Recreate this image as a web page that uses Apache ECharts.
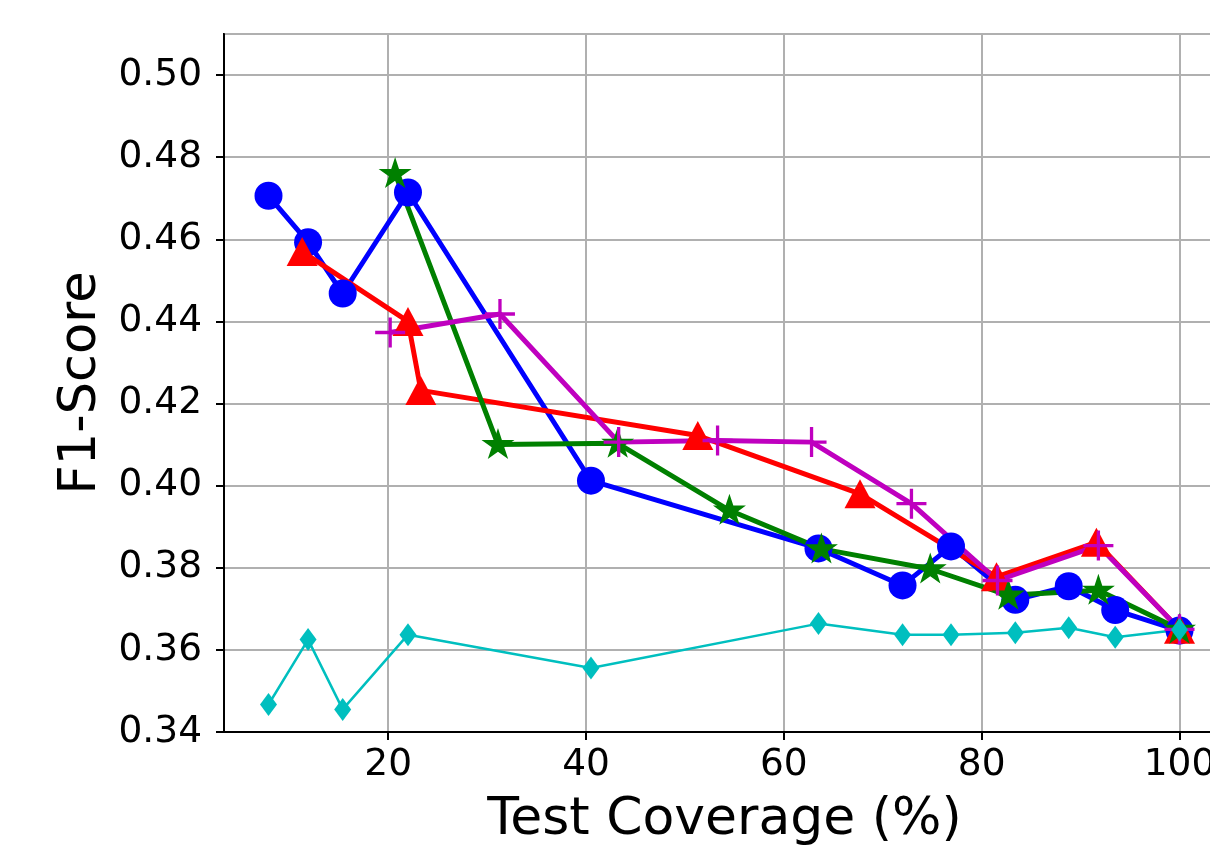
<!DOCTYPE html>
<html>
<head>
<meta charset="utf-8">
<script src="https://cdn.jsdelivr.net/npm/echarts@6/dist/echarts.min.js"></script>
<style>
html,body{margin:0;padding:0;background:#fff;}
#chart{width:1210px;height:847px;}
</style>
</head>
<body>
<div id="chart"></div>
<script>
// ---- data ----
const coverageA = [7.9, 11.9, 15.4, 22.0, 40.5, 63.5, 72.0, 76.9, 83.4, 88.8, 93.5, 100];
const blueF1 = [0.4706, 0.4593, 0.4468, 0.4714, 0.4012, 0.3847, 0.3757, 0.3852, 0.3722, 0.3755, 0.3697, 0.3647];
const cyanF1 = [0.3467, 0.3625, 0.3455, 0.3637, 0.3556, 0.3664, 0.3637, 0.3637, 0.3642, 0.3654, 0.3631, 0.3649];

const redX = [11.3, 22.0, 23.3, 51.3, 67.7, 81.5, 91.6, 100];
const redF1 = [0.4570, 0.4400, 0.4232, 0.4122, 0.3980, 0.3778, 0.3862, 0.3650];

const greenX = [20.7, 31.1, 43.2, 54.5, 63.8, 74.8, 82.7, 91.8, 100];
const greenF1 = [0.4760, 0.4100, 0.4103, 0.3940, 0.3846, 0.3797, 0.3733, 0.3745, 0.3650];

const magentaX = [20.2, 31.3, 43.3, 53.3, 62.8, 72.9, 81.6, 91.8, 100];
const magentaF1 = [0.4373, 0.4418, 0.4106, 0.4110, 0.4106, 0.3956, 0.3769, 0.3854, 0.3650];

const xTicks = [20, 40, 60, 80, 100];
const yMin = 0.34, yMax = 0.51, yStep = 0.02;
const xMin = 3.4, xMax = 104.6;
const xTitle = 'Test Coverage (%)';
const yTitle = 'F1-Score';

// ---- marker shapes ----
function starPath() {
  const pts = [];
  for (let k = 0; k < 10; k++) {
    const r = (k % 2 === 0) ? 1 : 0.381966;
    const a = Math.PI / 2 + k * Math.PI / 5;
    pts.push((r * Math.cos(a)).toFixed(4) + ',' + (-r * Math.sin(a)).toFixed(4));
  }
  return 'path://M' + pts.join(' L') + ' Z';
}
const plusPath = 'path://M-0.11,-1 L0.11,-1 L0.11,-0.11 L1,-0.11 L1,0.11 L0.11,0.11 L0.11,1 L-0.11,1 L-0.11,0.11 L-1,0.11 L-1,-0.11 L-0.11,-0.11 Z';

function pairs(xs, ys) { return xs.map((x, i) => [x, ys[i]]); }

const FONT = 'DejaVu Sans';
const chart = echarts.init(document.getElementById('chart'), null, {renderer: 'canvas'});

function lineSeries(name, data, color, symbol, size, width, extra) {
  return Object.assign({
    name: name,
    type: 'line',
    data: data,
    symbol: symbol,
    symbolSize: size,
    showSymbol: true,
    showAllSymbol: true,
    lineStyle: {color: color, width: width},
    itemStyle: {color: color},
    emphasis: {disabled: true},
    animation: false
  }, extra || {});
}

chart.setOption({
  animation: false,
  backgroundColor: '#ffffff',
  grid: {
    left: 224, top: 34, width: 1001, height: 698,
    show: true, borderColor: '#000000', borderWidth: 2, backgroundColor: 'transparent',
    containLabel: false,
    outerBoundsMode: 'none'
  },
  xAxis: {
    type: 'value',
    min: xMin, max: xMax,
    name: xTitle,
    nameLocation: 'middle',
    nameGap: 62,
    nameTextStyle: {fontFamily: FONT, fontSize: 52, color: '#000'},
    axisLine: {show: true, onZero: false, lineStyle: {color: '#000', width: 2}},
    axisTick: {show: true, length: 8, lineStyle: {color: '#000', width: 2}, customValues: xTicks},
    axisLabel: {fontFamily: FONT, fontSize: 37.5, color: '#000', margin: 14, customValues: xTicks},
    splitLine: {show: true, lineStyle: {color: '#b0b0b0', width: 2}}
  },
  yAxis: {
    type: 'value',
    min: yMin, max: yMax, interval: yStep,
    name: yTitle,
    nameLocation: 'middle',
    nameGap: 108,
    nameRotate: 90,
    nameTextStyle: {fontFamily: FONT, fontSize: 51, color: '#000'},
    axisLine: {show: true, onZero: false, lineStyle: {color: '#000', width: 2}},
    axisTick: {show: true, length: 8, lineStyle: {color: '#000', width: 2}},
    axisLabel: {fontFamily: FONT, fontSize: 37.5, color: '#000', margin: 22, showMaxLabel: false,
      formatter: v => v.toFixed(2)},
    splitLine: {show: true, lineStyle: {color: '#b0b0b0', width: 2}}
  },
  series: [
    lineSeries('blue', pairs(coverageA, blueF1), '#0000ff', 'circle', 28, 5),
    lineSeries('red', pairs(redX, redF1), '#ff0000', 'triangle', [31, 29], 5),
    lineSeries('green', pairs(greenX, greenF1), '#008000', starPath(), [33, 31], 5, {symbolOffset: [0, -1]}),
    lineSeries('magenta', pairs(magentaX, magentaF1), '#bf00bf', plusPath, 30, 5),
    lineSeries('cyan', pairs(coverageA, cyanF1), '#00bfbf', 'diamond', [17, 23], 2.5)
  ]
});
</script>
</body>
</html>
